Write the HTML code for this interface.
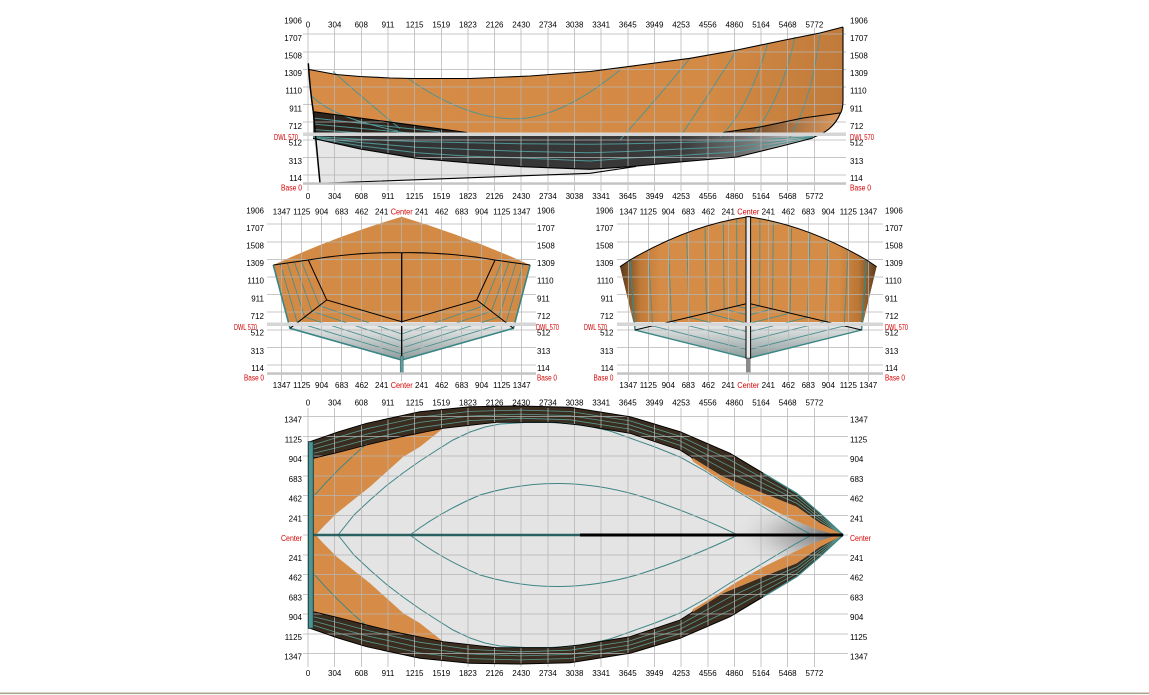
<!DOCTYPE html>
<html><head><meta charset="utf-8"><style>
html,body{margin:0;padding:0;background:#fff;overflow:hidden}
svg{display:block}
text{font-family:"Liberation Sans",Arial,sans-serif;font-size:8px;fill:#000}
.r{fill:#d40000}
.m{text-anchor:middle}
.e{text-anchor:end}
</style></head><body>
<svg width="1149" height="695" viewBox="0 0 1149 695" xmlns="http://www.w3.org/2000/svg">
<defs>
<linearGradient id="gOr" x1="308" x2="843" y1="0" y2="0" gradientUnits="userSpaceOnUse"><stop offset="0" stop-color="#d68c46"/><stop offset="0.75" stop-color="#d38a44"/><stop offset="1" stop-color="#c07a3a"/></linearGradient>
<linearGradient id="gDark" x1="308" x2="843" y1="0" y2="0" gradientUnits="userSpaceOnUse"><stop offset="0" stop-color="#303030"/><stop offset="0.7" stop-color="#3a3a3a"/><stop offset="0.83" stop-color="#7a7a7a"/><stop offset="0.93" stop-color="#c8c8c8"/><stop offset="1" stop-color="#e8e8e8"/></linearGradient>
<linearGradient id="gFlare" x1="725" x2="835" y1="0" y2="0" gradientUnits="userSpaceOnUse"><stop offset="0" stop-color="#5a3a1e"/><stop offset="1" stop-color="#d8955a"/></linearGradient>
<linearGradient id="gSL" x1="0" x2="0" y1="322" y2="360" gradientUnits="userSpaceOnUse"><stop offset="0" stop-color="#f2f2f2"/><stop offset="1" stop-color="#8e9c9c"/></linearGradient>
<linearGradient id="gSR" x1="620" x2="877" y1="0" y2="0" gradientUnits="userSpaceOnUse"><stop offset="0" stop-color="#5a3a1c"/><stop offset="0.08" stop-color="#c07a38"/><stop offset="0.16" stop-color="#d48c46"/><stop offset="0.85" stop-color="#d48c46"/><stop offset="0.93" stop-color="#b87534"/><stop offset="1" stop-color="#5a3a1c"/></linearGradient>
<linearGradient id="gSRg" x1="0" x2="0" y1="322" y2="358" gradientUnits="userSpaceOnUse"><stop offset="0" stop-color="#f0f0f0"/><stop offset="1" stop-color="#8a9a9a"/></linearGradient>
<radialGradient id="gBow" cx="830" cy="535" r="100" gradientUnits="userSpaceOnUse" gradientTransform="translate(830 535) scale(1 0.38) translate(-830 -535)"><stop offset="0" stop-color="#666" stop-opacity="0.9"/><stop offset="0.5" stop-color="#999" stop-opacity="0.55"/><stop offset="1" stop-color="#e4e4e4" stop-opacity="0"/></radialGradient>
<clipPath id="cpIn"><path d="M313.3,458.3 L340,452 L366.7,445 L400,437 L443.3,428.3 L496.7,422.3 L553.3,422.3 L580,425 L630,433.3 L680,450 L693,458.3 L723,476.7 L763,493.3 L796.7,506.7 L820,523.3 L843.3,535 L820,546.7 L796.7,563.3 L763,576.7 L723,593.3 L693,611.7 L680,620 L630,636.7 L580,645 L553.3,647.7 L496.7,647.7 L443.3,641.7 L400,633 L366.7,625 L340,618 L313.3,611.7 Z"/></clipPath>
</defs>
<rect width="1149" height="695" fill="#fff"/>

<!-- ============ PROFILE fills ============ -->
<path d="M309,69.5 L336,74.5 L360,76.5 L390,78 L413,78.5 L470,78.5 L530,76 L590,71.5 L640,65 L690,58.3 L737,50 L780,41 L820,33 L843,27 L843,100 Q843,110 840,113 L803,118 L760,127 L723,132.5 L467,132.5 L313.3,111.7 Q311,90 309,69.5 Z" fill="url(#gOr)"/>
<path d="M723,132.5 L760,127 L803,118 L840,113 Q834,128 820,134.5 L723,134.5 Z" fill="url(#gFlare)"/>
<path d="M313.3,111.7 L467,132.5 L467,135 L313.3,135 Z" fill="#2b231c"/>
<path d="M313,136 L815,136 L813,138 L780,146.5 L737,157 L680,162 L630,166.7 L590,169.3 L522,166.7 L470,163 L417,158.3 L360,149 L313,138.3 Z" fill="url(#gDark)"/>
<path d="M313.3,136 L320,183.3 L590,173.3 L636,166.5 L630,166.7 L590,169.3 L522,166.7 L470,163 L417,158.3 L360,149 L313,138.3 Z" fill="#e6e6e6"/>
<g fill="none" stroke="#4f9494" stroke-width="1">
<path d="M333,71.5 Q365,100 400,128.5"/>
<path d="M311,95 Q330,117 398,131"/>
<path d="M408,78.5 Q470,122 522,118.5 Q565,115 620,70"/>
<path d="M690,58.3 Q660,95 620,140"/>
<path d="M737,50 Q705,100 680,137"/>
<path d="M768,43 Q748,110 720,137"/>
<path d="M795,37 Q780,105 750,138"/>
<path d="M820,33 Q812,100 790,137"/>
<path d="M313,118 L440,132 M313,124 L410,133 M313,129.5 L375,134"/>
<path d="M313,136.6 L360,139.25 L417,141.6 L470,142.75 L522,143.7 L590,144.3 L630,143.7 L680,142.5 L737,141.25 L780,138.6 L813,136.5"/>
<path d="M313,137.2 L360,142.5 L417,147.2 L470,149.5 L522,151.4 L590,152.7 L630,151.4 L680,149 L737,146.5 L780,141.3 L813,137"/>
<path d="M313,137.7 L360,145.75 L417,152.7 L470,156.25 L522,158 L590,161 L630,158 L680,155.5 L737,151.75 L780,143.9 L813,137.5"/>
</g>

<!-- ============ SECTION LEFT fills ============ -->
<path d="M273.3,265 Q337,236 401.7,216.7 Q466,236 530.1,265 L515.6,322 L288.3,322 Z" fill="#d28a44"/>
<path d="M288.3,322 L290,328.3 L401.7,360 L513.4,328.3 L515.1,322 Z" fill="url(#gSL)"/>
<g fill="none" stroke="#4a8e8e" stroke-width="0.9">
<path d="M280.3,264 L297.3,322.6 L401.7,354"/>
<path d="M287.3,263 L304.7,317 L401.7,348"/>
<path d="M294.3,262 L312,311.3 L401.7,341"/>
<path d="M301.3,261 L319.4,305.7 L401.7,334"/>
<path d="M523.1,264 L506.1,322.6 L401.7,354"/>
<path d="M516.1,263 L498.7,317 L401.7,348"/>
<path d="M509.1,262 L491.4,311.3 L401.7,341"/>
<path d="M502.1,261 L484,305.7 L401.7,334"/>
</g>

<!-- ============ SECTION RIGHT fills ============ -->
<path d="M620,266.7 L630,260 Q690,225 748.3,216.7 Q806.6,225 866.6,260 L876.6,266.7 L863.3,322 L633.3,322 Z" fill="url(#gSR)"/>
<path d="M633.3,322 L635,330 L748.3,358.3 L861.6,330 L863.3,322 Z" fill="url(#gSRg)"/>
<g fill="none" stroke="#4a8e8e" stroke-width="0.9">
<path d="M648.3,249.3 L652.5,325.9 L748.3,349.8"/>
<path d="M668.3,240.7 L671.4,321.4 L748.3,340.6"/>
<path d="M686.7,234.3 L689.1,317.3 L748.3,332.1"/>
<path d="M705,228.3 L706.5,313.2 L748.3,323.6"/>
<path d="M723.3,222.7 L724.1,309 L748.3,315.1"/>
<path d="M736.7,219.3 L736.9,306.3 L748.3,308.9"/>
<path d="M848.3,249.3 L844.1,325.9 L748.3,349.8"/>
<path d="M828.3,240.7 L825.2,321.4 L748.3,340.6"/>
<path d="M809.9,234.3 L807.5,317.3 L748.3,332.1"/>
<path d="M791.6,228.3 L790.1,313.2 L748.3,323.6"/>
<path d="M773.3,222.7 L772.5,309 L748.3,315.1"/>
<path d="M759.9,219.3 L759.7,306.3 L748.3,308.9"/>
</g>

<!-- ============ PLAN fills ============ -->
<path d="M310,441.7 L338,432 L366.7,423.3 L420,411.7 L470,406.7 L520,406 L570,407.3 L630,416.7 L680,431.7 L730,453.3 L763.3,473.3 L796.7,493.3 L820,513.3 L843.3,535 L820,556.7 L796.7,576.7 L763.3,596.7 L730,616.7 L680,638.3 L630,653.3 L570,662.7 L520,664 L470,663.3 L420,658.3 L366.7,646.7 L338,638 L310,628.3 Z" fill="#3a2d20"/>
<g fill="none" stroke="#5a9a92" stroke-width="0.8">
<path d="M310,445.85 L340,436.5 L367,428.7 L420,417 L470,411.4 L520,410.1 L570,411.5 L630,420.85 L680,436.3 L730,459.9 L763,478.3 L797,496.65 L820,515.8 L843,535"/>
<path d="M310,450 L340,441.65 L367,434.15 L420,422.35 L470,416 L520,414.15 L570,415.65 L630,425 L680,440.85 L730,466.45 L763,483.3 L797,500 L820,518.3 L843,535"/>
<path d="M310,454.15 L340,446.85 L367,439.6 L420,427.7 L470,420.65 L520,418.2 L570,419.8 L630,429.15 L680,445.4 L730,473.05 L763,488.3 L797,503.35 L820,520.8 L843,535"/>
<path d="M310,624.15 L340,633.5 L367,641.3 L420,653 L470,658.6 L520,659.9 L570,658.5 L630,649.15 L680,633.7 L730,610.1 L763,591.7 L797,573.35 L820,554.2 L843,535"/>
<path d="M310,620 L340,628.35 L367,635.85 L420,647.65 L470,654 L520,655.85 L570,654.35 L630,645 L680,629.15 L730,603.55 L763,586.7 L797,570 L820,551.7 L843,535"/>
<path d="M310,615.85 L340,623.15 L367,630.4 L420,642.3 L470,649.35 L520,651.8 L570,650.2 L630,640.85 L680,624.6 L730,596.95 L763,581.7 L797,566.65 L820,549.2 L843,535"/>
</g>
<path d="M313.3,458.3 L340,452 L366.7,445 L400,437 L443.3,428.3 L496.7,422.3 L553.3,422.3 L580,425 L630,433.3 L680,450 L693,458.3 L723,476.7 L763,493.3 L796.7,506.7 L820,523.3 L843.3,535 L820,546.7 L796.7,563.3 L763,576.7 L723,593.3 L693,611.7 L680,620 L630,636.7 L580,645 L553.3,647.7 L496.7,647.7 L443.3,641.7 L400,633 L366.7,625 L340,618 L313.3,611.7 Z" fill="#e4e4e4"/>
<g clip-path="url(#cpIn)"><ellipse cx="830" cy="535" rx="110" ry="42" fill="url(#gBow)"/></g>
<path d="M313.3,458.3 L340,452 L366.7,445 L400,437 L443.3,428.3 L420,446.7 L403.3,456.7 L386.7,471.7 L370,486.7 L353.3,500 L336.7,513.3 L323.3,526.7 L316.7,534 L313.3,534 Z" fill="#d68c46"/>
<path d="M313.3,611.7 L340,618 L366.7,625 L400,633 L443.3,641.7 L420,623.3 L403.3,613.3 L386.7,598.3 L370,583.3 L353.3,570 L336.7,556.7 L323.3,543.3 L316.7,536 L313.3,536 Z" fill="#d68c46"/>
<path d="M690,456 L693,458.3 L723,476.7 L763,493.3 L796.7,506.7 L820,523.3 L843.3,535 L833,534 L813.3,528.3 L786.7,516.7 L763.3,505 L736.7,490 L713.3,475 L693.3,461.7 Z" fill="#d68c46"/>
<path d="M690,614 L693,611.7 L723,593.3 L763,576.7 L796.7,563.3 L820,546.7 L843.3,535 L833,536.5 L813.3,543 L786.7,555.5 L763.3,567 L736.7,582 L713.3,597 L693.3,609 Z" fill="#d68c46"/>
<g fill="none" stroke="#3f8585" stroke-width="1">
<path d="M313.3,496.7 Q338,468 366.7,444"/>
<path d="M313.3,573.3 Q338,602 366.7,626"/>
<path d="M338,535 L354,515 L370,500 L386,486 L403,473 L420,461 L437,450 L453,440 L470,432 L485,427 L500,424 L525,422.5 L550,422.5 L570,423.5 L590,426.5 L610,431 L627,437 L655,447 L680,457 L705,471 L730,487 L755,502 L780,517 L797,527 L812,535"/>
<path d="M338,535 L354,555 L370,570 L386,584 L403,597 L420,609 L437,620 L453,630 L470,638 L485,643 L500,646 L525,647.5 L550,647.5 L570,646.5 L590,643.5 L610,639 L627,633 L655,623 L680,613 L705,599 L730,583 L755,568 L780,553 L797,543 L812,535"/>
<path d="M410,535 Q440,512 480,495 Q520,483 560,483.5 Q600,484 640,496 Q690,512 738,535"/>
<path d="M410,535 Q440,558 480,575 Q520,587 560,586.5 Q600,586 640,574 Q690,558 738,535"/>
</g>

<!-- ============ GRID ============ -->
<g stroke="#b4b4b4" stroke-opacity="0.75" stroke-width="1" fill="none" shape-rendering="crispEdges">
<path d="M308,28V191M334.65,28V191M361.3,28V191M387.95,28V191M414.6,28V191M441.25,28V191M467.9,28V191M494.55,28V191M521.2,28V191M547.85,28V191M574.5,28V191M601.15,28V191M627.8,28V191M654.45,28V191M681.1,28V191M707.75,28V191M734.4,28V191M761.05,28V191M787.7,28V191M814.35,28V191"/>
<path d="M303,175H846M303,157.4H846M303,139.8H846M303,122.2H846M303,104.6H846M303,87H846M303,69.4H846M303,51.8H846M303,34.2H846"/>
<path d="M281.7,216V381.7M301.7,216V381.7M321.7,216V381.7M341.7,216V381.7M361.7,216V381.7M381.7,216V381.7M401.7,216V381.7M421.7,216V381.7M441.7,216V381.7M461.7,216V381.7M481.7,216V381.7M501.7,216V381.7M521.7,216V381.7"/>
<path d="M267,365H536M267,347.4H536M267,329.8H536M267,312.2H536M267,294.6H536M267,277H536M267,259.4H536M267,241.8H536M267,224.2H536"/>
<path d="M628.3,216V381.7M648.3,216V381.7M668.3,216V381.7M688.3,216V381.7M708.3,216V381.7M728.3,216V381.7M748.3,216V381.7M768.3,216V381.7M788.3,216V381.7M808.3,216V381.7M828.3,216V381.7M848.3,216V381.7M868.3,216V381.7"/>
<path d="M617,365H883M617,347.4H883M617,329.8H883M617,312.2H883M617,294.6H883M617,277H883M617,259.4H883M617,241.8H883M617,224.2H883"/>
<path d="M308,408V667M334.65,408V667M361.3,408V667M387.95,408V667M414.6,408V667M441.25,408V667M467.9,408V667M494.55,408V667M521.2,408V667M547.85,408V667M574.5,408V667M601.15,408V667M627.8,408V667M654.45,408V667M681.1,408V667M707.75,408V667M734.4,408V667M761.05,408V667M787.7,408V667M814.35,408V667"/>
<path d="M303,416.5H848M303,436.25H848M303,456H848M303,475.75H848M303,495.5H848M303,515.25H848M303,535H848M303,554.75H848M303,574.5H848M303,594.25H848M303,614H848M303,633.75H848M303,653.5H848"/>
</g>

<!-- ============ STROKES ON TOP ============ -->
<!-- profile -->
<g fill="none" stroke="#000" stroke-width="1.1">
<path d="M309,69.5 L336,74.5 L360,76.5 L390,78 L413,78.5 L470,78.5 L530,76 L590,71.5 L640,65 L690,58.3 L737,50 L780,41 L820,33 L843,27"/>
<path d="M843,27 L843,100 Q843,110 840,114 Q834,128 820,134.5 L813,137.5"/>
<path d="M313.3,111.7 L467,132.5 M723,132.5 L760,127 L803,118 L840,113"/>
<path d="M313,138.3 L360,149 L417,158.3 L470,163 L522,166.7 L590,169.3 L630,166.7 L680,162 L737,157 L780,146.5 L813,138"/>
<path d="M320,183.3 L590,173.3 L636,166.5"/>
<path d="M313.3,111.7 L320,183.3" stroke-width="1.5"/>
<path d="M308.3,63.3 Q310,90 313.3,111.7" stroke-width="1.5"/>
</g>
<!-- section left -->
<path d="M273.3,265 L290,328.3 L401.7,360 L513.4,328.3 L530.1,265" fill="none" stroke="#3a8585" stroke-width="1.6"/>
<g fill="none" stroke="#000" stroke-width="1">
<path d="M273.3,265 L308.3,260 Q355,252 401.7,252.7 Q448.4,252 495.1,260 L530.1,265"/>
<path d="M308.3,260 L326.7,300 L401.7,321.7 L476.7,300 L495.1,260"/>
<path d="M290,328.3 L326.7,300 M513.4,328.3 L476.7,300"/>
<path d="M401.7,252.7 V360" stroke-width="1.3"/>
</g>
<rect x="400.2" y="356" width="3" height="17" fill="#5f9d9d" stroke="#2d5d5d" stroke-width="0.5"/>
<!-- section right -->
<path d="M630,260 L635,330 L748.3,358.3 L861.6,330 L866.6,260" fill="none" stroke="#3a8585" stroke-width="1.4"/>
<g fill="none" stroke="#000" stroke-width="1">
<path d="M635,330 L748.3,303.3 L861.6,330"/>
<path d="M620,266.7 L630,260 Q690,225 748.3,216.7 Q806.6,225 866.6,260 L876.6,266.7"/>
</g>
<rect x="746" y="216.7" width="4.6" height="141.6" fill="#e8e8e8" stroke="#000" stroke-width="1"/>
<rect x="746" y="358.3" width="4.6" height="15" fill="#8a8a8a"/>
<!-- plan -->
<path d="M310,441.7 L338,432 L366.7,423.3 L420,411.7 L470,406.7 L520,406 L570,407.3 L630,416.7 L680,431.7 L730,453.3 L763.3,473.3 M763.3,596.7 L730,616.7 L680,638.3 L630,653.3 L570,662.7 L520,664 L470,663.3 L420,658.3 L366.7,646.7 L338,638 L310,628.3" fill="none" stroke="#000" stroke-width="1"/>
<path d="M763.3,473.3 L796.7,493.3 L820,513.3 L843.3,535 L820,556.7 L796.7,576.7 L763.3,596.7" fill="none" stroke="#3f8585" stroke-width="1.3"/>
<path d="M313.3,458.3 L340,452 L366.7,445 L400,437 L443.3,428.3 L496.7,422.3 L553.3,422.3 L580,425 L630,433.3 L680,450 L693,458.3 M693,611.7 L680,620 L630,636.7 L580,645 L553.3,647.7 L496.7,647.7 L443.3,641.7 L400,633 L366.7,625 L340,618 L313.3,611.7" fill="none" stroke="#000" stroke-width="0.9"/>
<path d="M310,535 H580" stroke="#2a6060" stroke-width="2.5"/>
<path d="M580,535 H843" stroke="#000" stroke-width="3"/>
<rect x="308.3" y="441.7" width="5" height="186.6" fill="#4d9595" stroke="#1c3c3c" stroke-width="1"/>

<!-- DWL and base bands -->
<g fill="#d6d6d6">
<rect x="303" y="132.5" width="543" height="3.5"/>
<rect x="267" y="322.5" width="269" height="3.5"/>
<rect x="617" y="322.5" width="266" height="3.5"/>
</g>
<g fill="#c4c4c4">
<rect x="303" y="182.3" width="543" height="2.5"/>
<rect x="267" y="372.3" width="269" height="2.5"/>
<rect x="617" y="372.3" width="266" height="2.5"/>
</g>

<!-- ============ LABELS ============ -->
<g>
<text class="m" x="308" y="27.5">0</text><text class="m" x="334.7" y="27.5">304</text><text class="m" x="361.3" y="27.5">608</text><text class="m" x="388" y="27.5">911</text><text class="m" x="414.6" y="27.5">1215</text><text class="m" x="441.3" y="27.5">1519</text><text class="m" x="467.9" y="27.5">1823</text><text class="m" x="494.6" y="27.5">2126</text><text class="m" x="521.2" y="27.5">2430</text><text class="m" x="547.9" y="27.5">2734</text><text class="m" x="574.5" y="27.5">3038</text><text class="m" x="601.2" y="27.5">3341</text><text class="m" x="627.8" y="27.5">3645</text><text class="m" x="654.5" y="27.5">3949</text><text class="m" x="681.1" y="27.5">4253</text><text class="m" x="707.8" y="27.5">4556</text><text class="m" x="734.4" y="27.5">4860</text><text class="m" x="761.1" y="27.5">5164</text><text class="m" x="787.7" y="27.5">5468</text><text class="m" x="814.4" y="27.5">5772</text>
<text class="m" x="308" y="199">0</text><text class="m" x="334.7" y="199">304</text><text class="m" x="361.3" y="199">608</text><text class="m" x="388" y="199">911</text><text class="m" x="414.6" y="199">1215</text><text class="m" x="441.3" y="199">1519</text><text class="m" x="467.9" y="199">1823</text><text class="m" x="494.6" y="199">2126</text><text class="m" x="521.2" y="199">2430</text><text class="m" x="547.9" y="199">2734</text><text class="m" x="574.5" y="199">3038</text><text class="m" x="601.2" y="199">3341</text><text class="m" x="627.8" y="199">3645</text><text class="m" x="654.5" y="199">3949</text><text class="m" x="681.1" y="199">4253</text><text class="m" x="707.8" y="199">4556</text><text class="m" x="734.4" y="199">4860</text><text class="m" x="761.1" y="199">5164</text><text class="m" x="787.7" y="199">5468</text><text class="m" x="814.4" y="199">5772</text>
<text class="m" x="308" y="405.5">0</text><text class="m" x="334.7" y="405.5">304</text><text class="m" x="361.3" y="405.5">608</text><text class="m" x="388" y="405.5">911</text><text class="m" x="414.6" y="405.5">1215</text><text class="m" x="441.3" y="405.5">1519</text><text class="m" x="467.9" y="405.5">1823</text><text class="m" x="494.6" y="405.5">2126</text><text class="m" x="521.2" y="405.5">2430</text><text class="m" x="547.9" y="405.5">2734</text><text class="m" x="574.5" y="405.5">3038</text><text class="m" x="601.2" y="405.5">3341</text><text class="m" x="627.8" y="405.5">3645</text><text class="m" x="654.5" y="405.5">3949</text><text class="m" x="681.1" y="405.5">4253</text><text class="m" x="707.8" y="405.5">4556</text><text class="m" x="734.4" y="405.5">4860</text><text class="m" x="761.1" y="405.5">5164</text><text class="m" x="787.7" y="405.5">5468</text><text class="m" x="814.4" y="405.5">5772</text>
<text class="m" x="308" y="676">0</text><text class="m" x="334.7" y="676">304</text><text class="m" x="361.3" y="676">608</text><text class="m" x="388" y="676">911</text><text class="m" x="414.6" y="676">1215</text><text class="m" x="441.3" y="676">1519</text><text class="m" x="467.9" y="676">1823</text><text class="m" x="494.6" y="676">2126</text><text class="m" x="521.2" y="676">2430</text><text class="m" x="547.9" y="676">2734</text><text class="m" x="574.5" y="676">3038</text><text class="m" x="601.2" y="676">3341</text><text class="m" x="627.8" y="676">3645</text><text class="m" x="654.5" y="676">3949</text><text class="m" x="681.1" y="676">4253</text><text class="m" x="707.8" y="676">4556</text><text class="m" x="734.4" y="676">4860</text><text class="m" x="761.1" y="676">5164</text><text class="m" x="787.7" y="676">5468</text><text class="m" x="814.4" y="676">5772</text>
</g>
<!-- profile y labels -->
<text class="e" x="302" y="23.3">1906</text><text class="e" x="302" y="40.9">1707</text><text class="e" x="302" y="58.5">1508</text><text class="e" x="302" y="76.1">1309</text><text class="e" x="302" y="93.7">1110</text><text class="e" x="302" y="111.3">911</text><text class="e" x="302" y="128.9">712</text><text class="e" x="302" y="145.5">512</text><text class="e" x="302" y="164.1">313</text><text class="e" x="302" y="181.2">114</text>
<text class="r e" x="298" y="140.2" textLength="24" lengthAdjust="spacingAndGlyphs">DWL 570</text>
<text class="r e" x="302" y="190.5" textLength="21" lengthAdjust="spacingAndGlyphs">Base 0</text>
<text x="850" y="23.3">1906</text><text x="850" y="40.9">1707</text><text x="850" y="58.5">1508</text><text x="850" y="76.1">1309</text><text x="850" y="93.7">1110</text><text x="850" y="111.3">911</text><text x="850" y="128.9">712</text><text x="850" y="145.5">512</text><text x="850" y="164.1">313</text><text x="850" y="181.2">114</text>
<text class="r" x="850" y="140.2" textLength="24" lengthAdjust="spacingAndGlyphs">DWL 570</text>
<text class="r" x="850" y="190.5" textLength="21" lengthAdjust="spacingAndGlyphs">Base 0</text>

<!-- section left labels -->
<text class="m" x="281.7" y="214.5">1347</text><text class="m" x="301.7" y="214.5">1125</text><text class="m" x="321.7" y="214.5">904</text><text class="m" x="341.7" y="214.5">683</text><text class="m" x="361.7" y="214.5">462</text><text class="m" x="381.7" y="214.5">241</text><text class="r m" x="401.7" y="214.5" textLength="22" lengthAdjust="spacingAndGlyphs">Center</text><text class="m" x="421.7" y="214.5">241</text><text class="m" x="441.7" y="214.5">462</text><text class="m" x="461.7" y="214.5">683</text><text class="m" x="481.7" y="214.5">904</text><text class="m" x="501.7" y="214.5">1125</text><text class="m" x="521.7" y="214.5">1347</text>
<text class="m" x="281.7" y="388">1347</text><text class="m" x="301.7" y="388">1125</text><text class="m" x="321.7" y="388">904</text><text class="m" x="341.7" y="388">683</text><text class="m" x="361.7" y="388">462</text><text class="m" x="381.7" y="388">241</text><text class="r m" x="401.7" y="388" textLength="22" lengthAdjust="spacingAndGlyphs">Center</text><text class="m" x="421.7" y="388">241</text><text class="m" x="441.7" y="388">462</text><text class="m" x="461.7" y="388">683</text><text class="m" x="481.7" y="388">904</text><text class="m" x="501.7" y="388">1125</text><text class="m" x="521.7" y="388">1347</text>
<text class="e" x="264" y="213.3">1906</text><text class="e" x="264" y="230.9">1707</text><text class="e" x="264" y="248.5">1508</text><text class="e" x="264" y="266.1">1309</text><text class="e" x="264" y="283.7">1110</text><text class="e" x="264" y="301.3">911</text><text class="e" x="264" y="318.9">712</text><text class="e" x="264" y="335.5">512</text><text class="e" x="264" y="354.1">313</text><text class="e" x="264" y="371.2">114</text>
<text class="r e" x="257" y="330.2" textLength="23" lengthAdjust="spacingAndGlyphs">DWL 570</text>
<text class="r e" x="264" y="380.6" textLength="20" lengthAdjust="spacingAndGlyphs">Base 0</text>
<text x="537" y="213.3">1906</text><text x="537" y="230.9">1707</text><text x="537" y="248.5">1508</text><text x="537" y="266.1">1309</text><text x="537" y="283.7">1110</text><text x="537" y="301.3">911</text><text x="537" y="318.9">712</text><text x="537" y="335.5">512</text><text x="537" y="354.1">313</text><text x="537" y="371.2">114</text>
<text class="r" x="536" y="330.2" textLength="23" lengthAdjust="spacingAndGlyphs">DWL 570</text>
<text class="r" x="537" y="380.6" textLength="20" lengthAdjust="spacingAndGlyphs">Base 0</text>

<!-- section right labels -->
<text class="m" x="628.3" y="214.5">1347</text><text class="m" x="648.3" y="214.5">1125</text><text class="m" x="668.3" y="214.5">904</text><text class="m" x="688.3" y="214.5">683</text><text class="m" x="708.3" y="214.5">462</text><text class="m" x="728.3" y="214.5">241</text><text class="r m" x="748.3" y="214.5" textLength="22" lengthAdjust="spacingAndGlyphs">Center</text><text class="m" x="768.3" y="214.5">241</text><text class="m" x="788.3" y="214.5">462</text><text class="m" x="808.3" y="214.5">683</text><text class="m" x="828.3" y="214.5">904</text><text class="m" x="848.3" y="214.5">1125</text><text class="m" x="868.3" y="214.5">1347</text>
<text class="m" x="628.3" y="388">1347</text><text class="m" x="648.3" y="388">1125</text><text class="m" x="668.3" y="388">904</text><text class="m" x="688.3" y="388">683</text><text class="m" x="708.3" y="388">462</text><text class="m" x="728.3" y="388">241</text><text class="r m" x="748.3" y="388" textLength="22" lengthAdjust="spacingAndGlyphs">Center</text><text class="m" x="768.3" y="388">241</text><text class="m" x="788.3" y="388">462</text><text class="m" x="808.3" y="388">683</text><text class="m" x="828.3" y="388">904</text><text class="m" x="848.3" y="388">1125</text><text class="m" x="868.3" y="388">1347</text>
<text class="e" x="613.5" y="213.3">1906</text><text class="e" x="613.5" y="230.9">1707</text><text class="e" x="613.5" y="248.5">1508</text><text class="e" x="613.5" y="266.1">1309</text><text class="e" x="613.5" y="283.7">1110</text><text class="e" x="613.5" y="301.3">911</text><text class="e" x="613.5" y="318.9">712</text><text class="e" x="613.5" y="335.5">512</text><text class="e" x="613.5" y="354.1">313</text><text class="e" x="613.5" y="371.2">114</text>
<text class="r e" x="607" y="330.2" textLength="23" lengthAdjust="spacingAndGlyphs">DWL 570</text>
<text class="r e" x="613.5" y="380.6" textLength="20" lengthAdjust="spacingAndGlyphs">Base 0</text>
<text x="885" y="213.3">1906</text><text x="885" y="230.9">1707</text><text x="885" y="248.5">1508</text><text x="885" y="266.1">1309</text><text x="885" y="283.7">1110</text><text x="885" y="301.3">911</text><text x="885" y="318.9">712</text><text x="885" y="335.5">512</text><text x="885" y="354.1">313</text><text x="885" y="371.2">114</text>
<text class="r" x="885" y="330.2" textLength="23" lengthAdjust="spacingAndGlyphs">DWL 570</text>
<text class="r" x="885" y="380.6" textLength="20" lengthAdjust="spacingAndGlyphs">Base 0</text>

<!-- plan y labels -->
<text class="e" x="302" y="422.7">1347</text><text class="e" x="302" y="442.4">1125</text><text class="e" x="302" y="462.2">904</text><text class="e" x="302" y="481.9">683</text><text class="e" x="302" y="501.7">462</text><text class="e" x="302" y="521.4">241</text><text class="r e" x="302" y="541.2" textLength="21" lengthAdjust="spacingAndGlyphs">Center</text><text class="e" x="302" y="560.9">241</text><text class="e" x="302" y="580.7">462</text><text class="e" x="302" y="600.4">683</text><text class="e" x="302" y="620.2">904</text><text class="e" x="302" y="639.9">1125</text><text class="e" x="302" y="659.7">1347</text>
<text x="850" y="422.7">1347</text><text x="850" y="442.4">1125</text><text x="850" y="462.2">904</text><text x="850" y="481.9">683</text><text x="850" y="501.7">462</text><text x="850" y="521.4">241</text><text class="r" x="850" y="541.2" textLength="21" lengthAdjust="spacingAndGlyphs">Center</text><text x="850" y="560.9">241</text><text x="850" y="580.7">462</text><text x="850" y="600.4">683</text><text x="850" y="620.2">904</text><text x="850" y="639.9">1125</text><text x="850" y="659.7">1347</text>

<rect x="0" y="692.5" width="1149" height="1.6" fill="#a9a591"/>
</svg>
</body></html>
